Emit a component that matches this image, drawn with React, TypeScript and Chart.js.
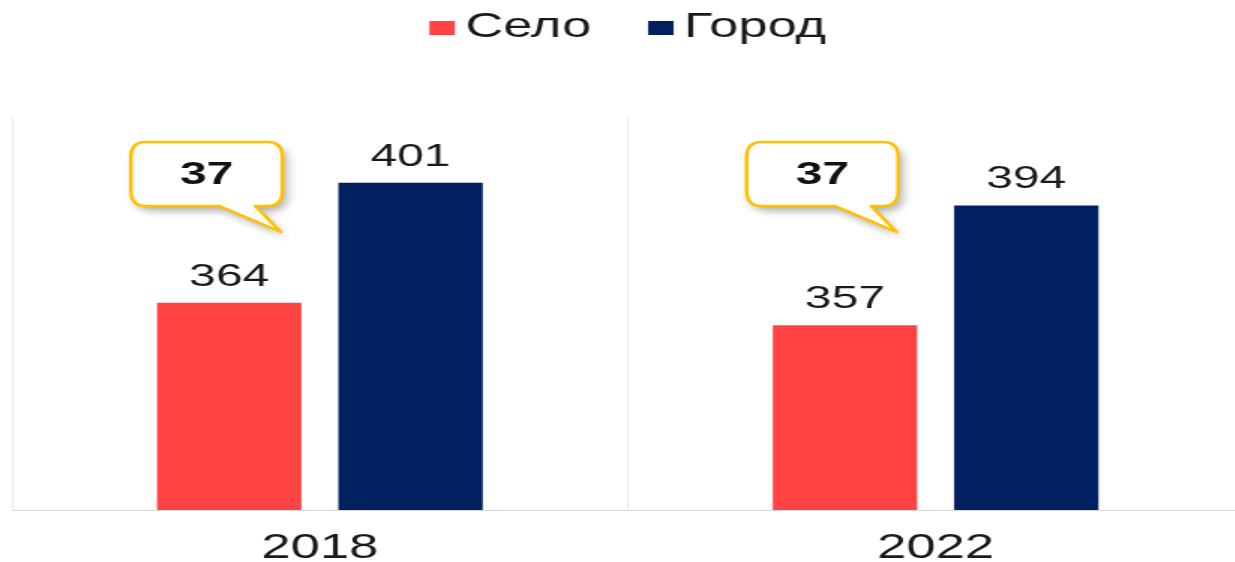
import React, { useEffect, useRef } from "react";
import { Chart, registerables } from "chart.js";

Chart.register(...registerables);

const CATEGORIES = ["2018", "2022"];
const SERIES_NAMES = ["Село", "Город"];
const SELO = [364, 357];
const GOROD = [401, 394];
const Y_MIN = 300;
const Y_MAX = 421;

const COLORS = ["#FF4343", "#002060"];
const FONT = "'Liberation Sans', Arial, sans-serif";
const TEXT = "#1a1a1a";
const STRETCH = 1.5;
const CANVAS_W = 829;
const CANVAS_H = 562;

const labelsPlugin = {
  id: "valueLabels",
  afterDatasetsDraw(chart: any) {
    const ctx = chart.ctx;
    ctx.save();
    ctx.font = `32px ${FONT}`;
    ctx.fillStyle = TEXT;
    ctx.textAlign = "center";
    ctx.textBaseline = "alphabetic";
    chart.data.datasets.forEach((ds: any, di: number) => {
      const meta = chart.getDatasetMeta(di);
      meta.data.forEach((bar: any, i: number) => {
        ctx.fillText(String(ds.data[i]), bar.x, bar.y - 17);
      });
    });
    ctx.restore();
  },
};

const bubblePlugin = {
  id: "diffBubbles",
  afterDatasetsDraw(chart: any) {
    const ctx = chart.ctx;
    const xs = chart.scales.x;
    const ys = chart.scales.y;
    CATEGORIES.forEach((_, i) => {
      const diff = GOROD[i] - SELO[i];
      const cx = xs.getPixelForValue(i);
      const l = cx - 126;
      const r = cx - 25;
      const t = ys.getPixelForValue(413.6);
      const b = ys.getPixelForValue(393.8);
      const tipY = ys.getPixelForValue(385.8);
      const tipX = r - 1;
      const tailL = cx - 67;
      const tailR = cx - 43;
      const rx = 10;
      const ry = 15;
      ctx.save();
      ctx.beginPath();
      ctx.moveTo(l + rx, t);
      ctx.lineTo(r - rx, t);
      ctx.quadraticCurveTo(r, t, r, t + ry);
      ctx.lineTo(r, b - ry);
      ctx.quadraticCurveTo(r, b, r - rx, b);
      ctx.lineTo(tailR, b);
      ctx.lineTo(tipX, tipY);
      ctx.lineTo(tailL, b);
      ctx.lineTo(l + rx, b);
      ctx.quadraticCurveTo(l, b, l, b - ry);
      ctx.lineTo(l, t + ry);
      ctx.quadraticCurveTo(l, t, l + rx, t);
      ctx.closePath();
      ctx.shadowColor = "rgba(0,0,0,0.32)";
      ctx.shadowBlur = 7;
      ctx.shadowOffsetX = 3;
      ctx.shadowOffsetY = 5;
      ctx.fillStyle = "#ffffff";
      ctx.fill();
      ctx.shadowColor = "transparent";
      ctx.shadowBlur = 0;
      ctx.shadowOffsetX = 0;
      ctx.shadowOffsetY = 0;
      ctx.lineWidth = 2.5;
      ctx.strokeStyle = "#FFC000";
      ctx.lineJoin = "round";
      ctx.stroke();
      ctx.font = `bold 32px ${FONT}`;
      ctx.fillStyle = "#111111";
      ctx.textAlign = "center";
      ctx.textBaseline = "middle";
      ctx.fillText(String(diff), (l + r) / 2, (t + b) / 2 + 1);
      ctx.restore();
    });
  },
};

const legendPlugin = {
  id: "topLegend",
  afterDraw(chart: any) {
    const ctx = chart.ctx;
    ctx.save();
    ctx.font = `35px ${FONT}`;
    const boxW = 17;
    const boxH = 14;
    const gap = 7;
    const spacing = 38;
    const widths = SERIES_NAMES.map((n) => ctx.measureText(n).width);
    const total = widths.reduce((a, w) => a + boxW + gap + w, 0) + spacing * (SERIES_NAMES.length - 1);
    const center = (chart.chartArea.left + chart.chartArea.right) / 2;
    let x = center - total / 2;
    const yMid = 27;
    SERIES_NAMES.forEach((name, i) => {
      ctx.fillStyle = COLORS[i];
      ctx.fillRect(x, yMid - boxH / 2 + 1, boxW, boxH);
      x += boxW + gap;
      ctx.fillStyle = TEXT;
      ctx.textAlign = "left";
      ctx.textBaseline = "middle";
      ctx.fillText(name, x, yMid);
      x += widths[i] + spacing;
    });
    ctx.restore();
  },
};

export default function App() {
  const ref = useRef<HTMLCanvasElement | null>(null);

  useEffect(() => {
    if (!ref.current) return;
    const chart = new Chart(ref.current, {
      type: "bar",
      data: {
        labels: CATEGORIES,
        datasets: [
          {
            label: SERIES_NAMES[0],
            data: SELO,
            backgroundColor: COLORS[0],
            borderWidth: 0,
            barPercentage: 0.796,
            categoryPercentage: 0.589,
          },
          {
            label: SERIES_NAMES[1],
            data: GOROD,
            backgroundColor: COLORS[1],
            borderWidth: 0,
            barPercentage: 0.796,
            categoryPercentage: 0.589,
          },
        ],
      },
      options: {
        responsive: false,
        animation: false,
        devicePixelRatio: 1,
        layout: { padding: { top: 118, left: 8, right: 0, bottom: -24 } },
        plugins: {
          legend: { display: false },
          tooltip: { enabled: false },
          title: { display: false },
        },
        scales: {
          x: {
            grid: {
              display: true,
              color: "#e9e9e9",
              lineWidth: 1,
              drawTicks: false,
              offset: true,
            },
            border: { display: true, color: "#d9d9d9", width: 1 },
            ticks: {
              color: TEXT,
              padding: 24,
              font: { family: FONT, size: 35, lineHeight: 0.8 },
            },
          },
          y: {
            display: false,
            min: Y_MIN,
            max: Y_MAX,
          },
        },
      },
      plugins: [labelsPlugin, bubblePlugin, legendPlugin],
    });
    return () => chart.destroy();
  }, []);

  return (
    <div
      style={{
        position: "fixed",
        left: 0,
        top: 0,
        width: 1235,
        height: 562,
        overflow: "hidden",
        background: "#ffffff",
      }}
    >
      <canvas
        ref={ref}
        width={CANVAS_W}
        height={CANVAS_H}
        style={{
          width: `${CANVAS_W}px`,
          height: `${CANVAS_H}px`,
          display: "block",
          transform: `scaleX(${STRETCH})`,
          transformOrigin: "0 0",
        }}
      />
    </div>
  );
}
